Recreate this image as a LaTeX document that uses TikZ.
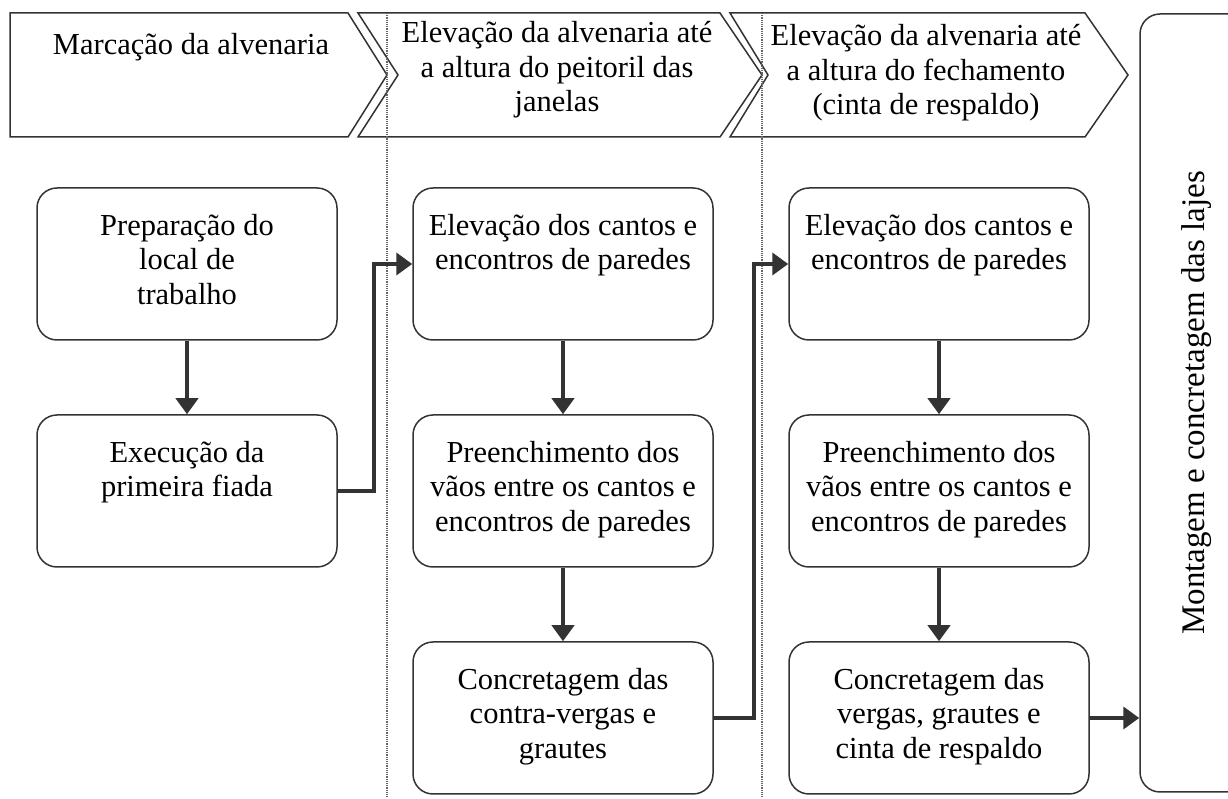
\documentclass[tikz,border=0pt]{standalone}
\usepackage{fontspec}
\setmainfont{Liberation Serif}
\usetikzlibrary{positioning, arrows.meta}

\newcommand{\caixa}[1]{\parbox[c][100pt][t]{280pt}{\centering #1}}

\begin{document}
\begin{tikzpicture}[x=1pt, y=1pt, node distance=227pt and 376pt, on grid,
    font=\fontsize{30.5}{34.5}\selectfont,
    etapa/.style={draw=black!80, line width=1.5pt, rounded corners=20pt, inner xsep=10pt, inner ysep=26pt},
    fase/.style={draw=black!80, line width=1.5pt},
    seta/.style={draw=black!80, line width=4.5pt, -{Triangle[length=16pt, width=22pt]}},
    divisa/.style={black!60, densely dotted, line width=1.2pt}]
    \clip (0,0) rectangle (1228,799);
    % fases no topo
    \draw[fase] (10,786) -- (348,786) -- (387,724) -- (348,662) -- (10,662) -- cycle;
    \draw[fase] (358,786) -- (720,786) -- (762,724) -- (720,662) -- (358,662) -- (398,724) -- cycle;
    \draw[fase] (730,786) -- (1085,786) -- (1128,724) -- (1085,662) -- (730,662) -- (768,724) -- cycle;
    \node (fase1) at (191,752) {Marcação da alvenaria};
    \node[align=center] (fase2) at (557,729) {Elevação da alvenaria até\\a altura do peitoril das\\janelas};
    \node[align=center] (fase3) at (926,726) {Elevação da alvenaria até\\a altura do fechamento\\(cinta de respaldo)};
    % divisoes
    \draw[divisa] (387,786) -- (387,2);
    \draw[divisa] (762,786) -- (762,2);
    % etapas
    \node[etapa] (prep) at (187,535) {\caixa{Preparação do\\local de\\trabalho}};
    \node[etapa] (exec) [below=of prep] {\caixa{Execução da\\primeira fiada}};
    \node[etapa] (elevA) [right=of prep] {\caixa{Elevação dos cantos e\\encontros de paredes}};
    \node[etapa] (preenA) [below=of elevA] {\caixa{Preenchimento dos\\vãos entre os cantos e\\encontros de paredes}};
    \node[etapa] (concA) [below=of preenA] {\caixa{Concretagem das\\contra-vergas e\\grautes}};
    \node[etapa] (elevB) [right=of elevA] {\caixa{Elevação dos cantos e\\encontros de paredes}};
    \node[etapa] (preenB) [below=of elevB] {\caixa{Preenchimento dos\\vãos entre os cantos e\\encontros de paredes}};
    \node[etapa] (concB) [below=of preenB] {\caixa{Concretagem das\\vergas, grautes e\\cinta de respaldo}};
    \node[etapa, inner sep=0pt, minimum width=114pt, minimum height=778pt] (lajes) at (1197,396)
        {\rotatebox{90}{\fontsize{33}{38}\selectfont Montagem e concretagem das lajes}};
    % ligacoes
    \draw[seta] (prep.south) -- (exec.north);
    \draw[seta] (elevA.south) -- (preenA.north);
    \draw[seta] (preenA.south) -- (concA.north);
    \draw[seta] (elevB.south) -- (preenB.north);
    \draw[seta] (preenB.south) -- (concB.north);
    \draw[seta] (exec.east) -- ++(36,0) |- (elevA.west);
    \draw[seta] (concA.east) -- ++(40,0) |- (elevB.west);
    \draw[seta] (concB.east) -- (concB.east -| lajes.west);
\end{tikzpicture}
\end{document}
